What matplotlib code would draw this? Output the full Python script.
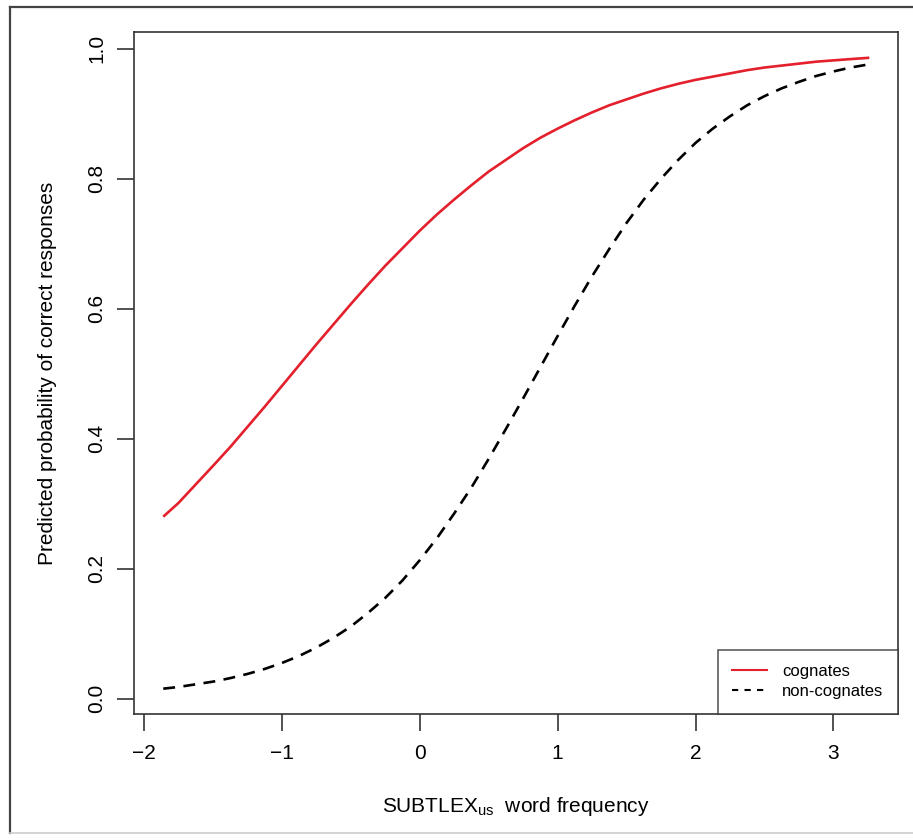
import matplotlib
matplotlib.use("Agg")
import matplotlib.pyplot as plt
from matplotlib.lines import Line2D

plt.rcParams["font.family"] = ["Liberation Sans", "DejaVu Sans"]

# ── data (predicted probabilities) ────────────────────────────────────────────
freq = [-1.86, -1.75, -1.5, -1.375, -1.25, -1.125, -1.0, -0.875, -0.75, -0.625,
        -0.5, -0.375, -0.25, -0.125, 0.0, 0.125, 0.25, 0.375, 0.5, 0.625,
        0.75, 0.875, 1.0, 1.125, 1.25, 1.375, 1.5, 1.625, 1.75, 1.875,
        2.0, 2.125, 2.25, 2.375, 2.5, 2.625, 2.75, 2.875, 3.0, 3.125, 3.26]
p_cognates = [0.280, 0.301, 0.358, 0.387, 0.418, 0.449, 0.481, 0.513, 0.545,
              0.576, 0.607, 0.637, 0.666, 0.693, 0.720, 0.745, 0.768, 0.790,
              0.811, 0.829, 0.847, 0.863, 0.877, 0.890, 0.902, 0.913, 0.922,
              0.931, 0.939, 0.946, 0.952, 0.957, 0.962, 0.967, 0.971, 0.974,
              0.977, 0.980, 0.982, 0.984, 0.986]
p_noncognates = [0.0154, 0.0180, 0.0262, 0.0316, 0.0380, 0.0457, 0.0549,
                 0.0657, 0.0786, 0.0937, 0.111, 0.132, 0.155, 0.182, 0.213,
                 0.247, 0.285, 0.325, 0.369, 0.415, 0.462, 0.510, 0.558,
                 0.605, 0.650, 0.692, 0.732, 0.768, 0.800, 0.829, 0.855,
                 0.877, 0.896, 0.913, 0.927, 0.939, 0.949, 0.958, 0.965,
                 0.971, 0.976]
x_ticks = [-2, -1, 0, 1, 2, 3]
y_ticks = [0.0, 0.2, 0.4, 0.6, 0.8, 1.0]
series_labels = ["cognates", "non-cognates"]

W, H = 913, 840
fig = plt.figure(figsize=(W / 100, H / 100), dpi=100)
ax = fig.add_axes([134.3 / W, 1 - 713.5 / H, (897.7 - 134.3) / W, (713.5 - 32.3) / H])

ax.plot(freq, p_cognates, color="#e3202c", lw=1.9, solid_capstyle="butt")
ax.plot(freq, p_noncognates, color="black", lw=1.9, dashes=(4.5, 3.2))

ax.set_xlim(-2.07, 3.466)
ax.set_ylim(-0.0228, 1.0252)
ax.set_xticks(x_ticks)
ax.set_xticklabels([str(t).replace("-", "\u2212") for t in x_ticks])
ax.set_yticks(y_ticks)
ax.set_yticklabels([f"{t:.1f}" for t in y_ticks], rotation=90, va="center")

# R-style box with outward ticks
for sp in ax.spines.values():
    sp.set_linewidth(1.2)
    sp.set_color("#333333")
ax.tick_params(axis="both", direction="out", length=12, width=1.2,
               color="#333333", labelsize=15, pad=10)
ax.tick_params(axis="y", pad=8)

ax.set_xlabel("SUBTLEX$_{\\mathregular{us}}$  word frequency", fontsize=15, labelpad=23)
ax.set_ylabel("Predicted probability of correct responses", fontsize=15, labelpad=22)

handles = [Line2D([], [], color="#e3202c", lw=1.5),
           Line2D([], [], color="black", lw=1.5, dashes=(3, 3))]
leg = ax.legend(handles, series_labels, loc="lower right", fontsize=12,
                borderaxespad=0, frameon=True, fancybox=False,
                handlelength=2.1, handletextpad=0.9, labelspacing=0.3,
                borderpad=0.85)
leg.get_frame().set_edgecolor("#333333")
leg.get_frame().set_linewidth(1.2)

# outer frame around the figure
fig.add_artist(Line2D([9.5 / W, 9.5 / W], [1 - 6.5 / H, 1 - 833 / H],
                      transform=fig.transFigure, color="#444444", lw=1.6))
fig.add_artist(Line2D([9.5 / W, 1.0], [1 - 6.5 / H, 1 - 6.5 / H],
                      transform=fig.transFigure, color="#444444", lw=1.6))
fig.add_artist(Line2D([9.5 / W, 1.0], [1 - 833 / H, 1 - 833 / H],
                      transform=fig.transFigure, color="#cccccc", lw=1.2))

fig.savefig("out.png", dpi=100)
